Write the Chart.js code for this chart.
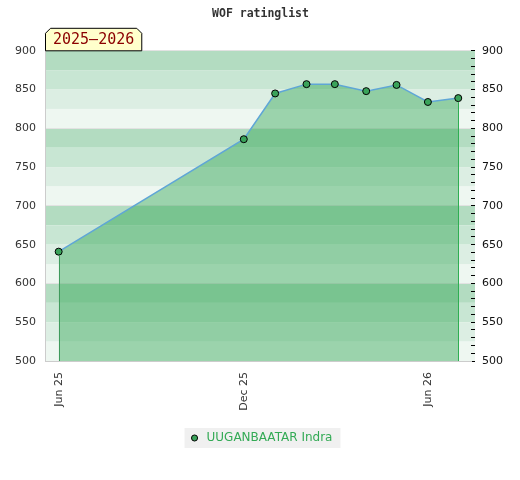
<!DOCTYPE html>
<html>
<head>
<meta charset="utf-8">
<script src="https://cdn.jsdelivr.net/npm/chart.js@4.4.0/dist/chart.umd.min.js"></script>
<style>
  html, body { margin: 0; padding: 0; background: #fff; }
  #wrap { width: 520px; height: 480px; }
</style>
</head>
<body>
<div id="wrap"><canvas id="ratingChart"></canvas></div>
<script>
const listDates = ["2025-06-01", "2025-12-01", "2026-01-01", "2026-02-01", "2026-03-01",
  "2026-04-01", "2026-05-01", "2026-06-01", "2026-07-01"];
const ratings = [641, 786, 845, 857, 857, 848, 856, 834, 839];
const tickDates = ["2025-06-01", "2025-12-01", "2026-06-01"];
const tickLabels = ["Jun 25", "Dec 25", "Jun 26"];
const playerName = "UUGANBAATAR Indra";
const seasonLabel = "2025–2026";
const chartTitle = "WOF ratinglist";

const DAY = 86400000;
const toTime = (s) => Date.parse(s + "T00:00:00Z");

const bandColors = ["#b3dcc1", "#c8e6d3", "#dceee3", "#eef7f1"];

// striped background, one band per 25 points
const bandsPlugin = {
  id: "bands",
  beforeDraw(chart) {
    const { ctx, chartArea } = chart;
    const y = chart.scales.y;
    ctx.save();
    let i = 0;
    for (let v = y.max; v > y.min; v -= 25) {
      const top = y.getPixelForValue(v);
      const bottom = y.getPixelForValue(v - 25);
      ctx.fillStyle = bandColors[i % bandColors.length];
      ctx.fillRect(chartArea.left, top, chartArea.right - chartArea.left + 4, bottom - top);
      i++;
    }
    // legend background
    const box = chart.legend.legendHitBoxes[0];
    if (box) {
      ctx.fillStyle = "#f0f0f0";
      ctx.fillRect(box.left - 4, box.top - 4, box.width + 12, box.height + 8);
    }
    ctx.restore();
  },
};

// vertical edges of the filled area
const edgesPlugin = {
  id: "edges",
  afterDatasetsDraw(chart) {
    const { ctx, chartArea } = chart;
    const pts = chart.getDatasetMeta(0).data;
    const first = pts[0];
    const last = pts[pts.length - 1];
    ctx.save();
    ctx.lineWidth = 1;
    ctx.strokeStyle = "#3f9a5c";
    ctx.beginPath();
    ctx.moveTo(Math.round(first.x) + 0.5, first.y + 4);
    ctx.lineTo(Math.round(first.x) + 0.5, chartArea.bottom);
    ctx.stroke();
    ctx.strokeStyle = "#2fae52";
    ctx.beginPath();
    ctx.moveTo(Math.round(last.x) + 0.5, last.y + 4);
    ctx.lineTo(Math.round(last.x) + 0.5, chartArea.bottom);
    ctx.stroke();
    ctx.restore();
  },
};

// season badge sitting on the top-left of the plot
const badgePlugin = {
  id: "badge",
  afterDraw(chart) {
    const { ctx, chartArea } = chart;
    ctx.save();
    ctx.font = "15px 'DejaVu Sans Mono', monospace";
    const w = ctx.measureText(seasonLabel).width + 15;
    const x0 = chartArea.left + 0.5;
    const x1 = x0 + w;
    const y1 = chartArea.top;
    const y0 = y1 - 22.5;
    const c = 5;
    ctx.beginPath();
    ctx.moveTo(x0, y1);
    ctx.lineTo(x0, y0 + c);
    ctx.lineTo(x0 + c, y0);
    ctx.lineTo(x1 - c, y0);
    ctx.lineTo(x1, y0 + c);
    ctx.lineTo(x1, y1);
    ctx.closePath();
    ctx.fillStyle = "#ffffcc";
    ctx.fill();
    ctx.strokeStyle = "#000";
    ctx.lineWidth = 1;
    ctx.stroke();
    ctx.fillStyle = "#8b0000";
    ctx.textAlign = "center";
    ctx.textBaseline = "middle";
    ctx.fillText(seasonLabel, (x0 + x1) / 2, (y0 + y1) / 2 + 1);
    ctx.restore();
  },
};

const times = listDates.map(toTime);
const points = times.map((t, i) => ({ x: t, y: ratings[i] }));
const tickFont = { family: "'DejaVu Sans'", size: 11 };

new Chart(document.getElementById("ratingChart"), {
  type: "line",
  data: {
    datasets: [
      {
        label: playerName,
        data: points,
        borderColor: "#5fa6d6",
        borderWidth: 1.5,
        backgroundColor: "rgba(40,163,77,0.42)",
        fill: "start",
        tension: 0,
        pointRadius: 3.5,
        pointBackgroundColor: "#3aa35a",
        pointBorderColor: "#000",
        pointBorderWidth: 1,
      },
    ],
  },
  options: {
    responsive: true,
    maintainAspectRatio: false,
    animation: false,
    layout: { padding: { left: 14, right: 13, bottom: 26 } },
    scales: {
      x: {
        type: "linear",
        min: times[0] - 13.5 * DAY,
        max: times[times.length - 1] + 12.6 * DAY,
        afterFit: (scale) => { scale.height = 57; },
        afterBuildTicks: (scale) => {
          scale.ticks = tickDates.map((d) => ({ value: toTime(d) }));
        },
        ticks: {
          minRotation: 90,
          maxRotation: 90,
          padding: 3,
          color: "#333",
          font: tickFont,
          callback: (value) => tickLabels[tickDates.map(toTime).indexOf(value)],
        },
        grid: { display: false },
        border: { display: true, color: "#cccccc" },
      },
      y: {
        position: "left",
        min: 500,
        max: 900,
        afterFit: (scale) => { scale.width = 31; },
        ticks: { stepSize: 50, padding: 9, color: "#333", font: tickFont },
        grid: {
          drawTicks: false,
          color: (c) => (c.tick && c.tick.value % 100 === 0 ? "#e2e2e2" : "transparent"),
        },
        border: { display: true, color: "#cccccc" },
      },
      y2: {
        position: "right",
        min: 500,
        max: 900,
        afterFit: (scale) => { scale.width = 36; },
        ticks: {
          stepSize: 10,
          padding: 7,
          color: "#111",
          font: tickFont,
          autoSkip: false,
          callback: (v) => (v % 50 === 0 ? v : ""),
        },
        grid: { drawOnChartArea: false, tickLength: 4, tickColor: "#000" },
        border: { display: false },
      },
    },
    plugins: {
      title: {
        display: true,
        text: chartTitle,
        color: "#333",
        font: { family: "'DejaVu Sans Mono'", size: 11.5, weight: "bold" },
        padding: { top: 7, bottom: 30 },
      },
      legend: {
        position: "bottom",
        labels: {
          usePointStyle: true,
          pointStyle: "circle",
          boxHeight: 4.3,
          boxWidth: 12,
          color: "#33aa55",
          font: { family: "'DejaVu Sans'", size: 12 },
          padding: 14,
        },
      },
      tooltip: { enabled: false },
    },
  },
  plugins: [bandsPlugin, edgesPlugin, badgePlugin],
});
</script>
</body>
</html>
